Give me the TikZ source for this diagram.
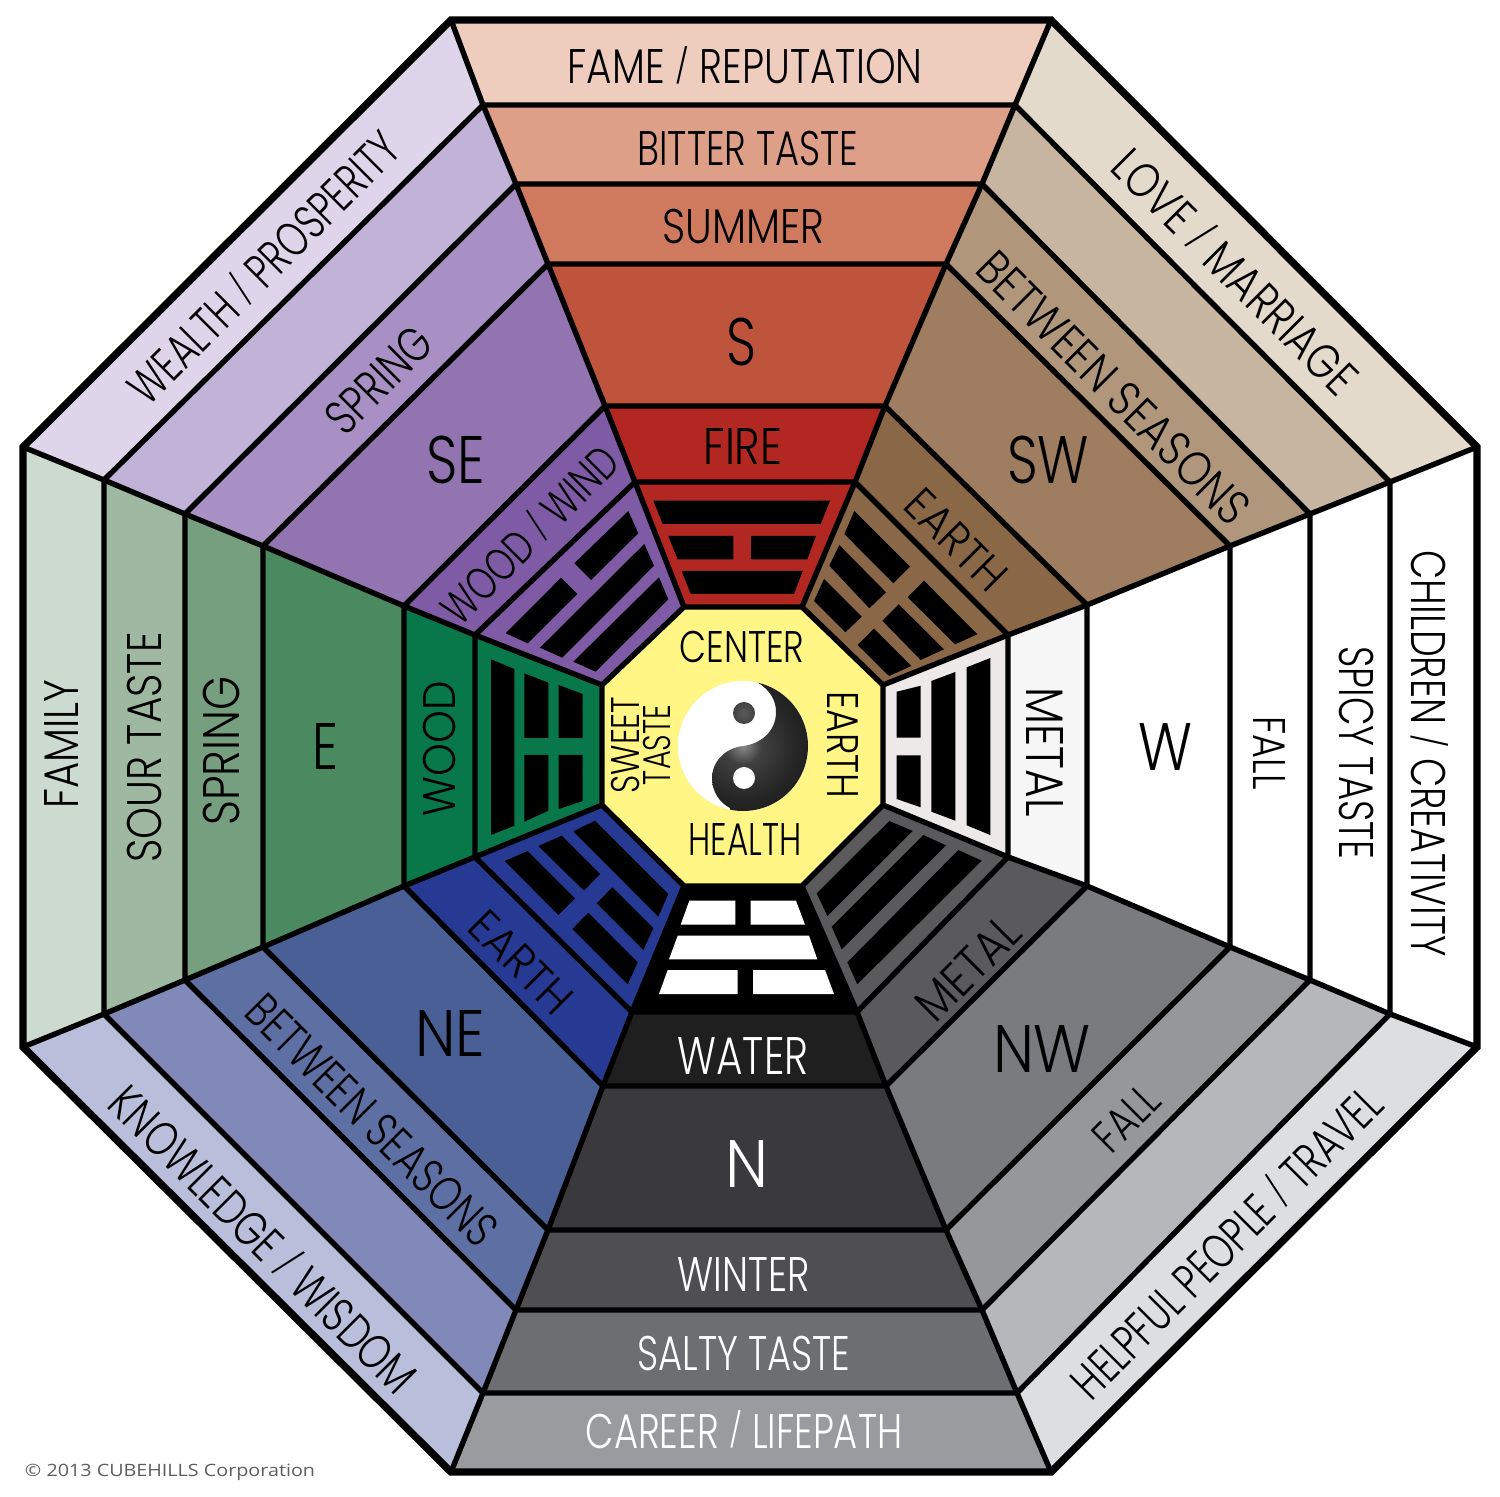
\documentclass[tikz,border=0pt]{standalone}
\usepackage{fontspec}
\usepackage{graphicx}
\newfontfamily\labfont{Poppins Light}
\newfontfamily\copyfont{Open Sans}
% sector colours: index 0 = outermost band ... 5 = trigram band
\definecolor{s0}{HTML}{EFCDBE}\definecolor{s1}{HTML}{DD9F87}\definecolor{s2}{HTML}{CF7A5F}\definecolor{s3}{HTML}{BE543C}\definecolor{s4}{HTML}{B22722}\definecolor{s5}{HTML}{B22722}
\definecolor{sw0}{HTML}{E4DACC}\definecolor{sw1}{HTML}{C7B5A1}\definecolor{sw2}{HTML}{B0977C}\definecolor{sw3}{HTML}{9E7D61}\definecolor{sw4}{HTML}{8A6746}\definecolor{sw5}{HTML}{8A6746}
\definecolor{w0}{HTML}{FFFFFF}\definecolor{w1}{HTML}{FFFFFF}\definecolor{w2}{HTML}{FFFFFF}\definecolor{w3}{HTML}{FFFFFF}\definecolor{w4}{HTML}{F6F6F6}\definecolor{w5}{HTML}{EDE9E8}
\definecolor{nw0}{HTML}{DDDEE0}\definecolor{nw1}{HTML}{B6B7BB}\definecolor{nw2}{HTML}{96979B}\definecolor{nw3}{HTML}{7A7B7F}\definecolor{nw4}{HTML}{5A5A5C}\definecolor{nw5}{HTML}{5A5A5C}
\definecolor{n0}{HTML}{9A9B9E}\definecolor{n1}{HTML}{6D6E71}\definecolor{n2}{HTML}{4F4F51}\definecolor{n3}{HTML}{3A3A3C}\definecolor{n4}{HTML}{1F1F20}\definecolor{n5}{HTML}{000000}
\definecolor{ne0}{HTML}{B9BEDA}\definecolor{ne1}{HTML}{8089B8}\definecolor{ne2}{HTML}{5E6FA3}\definecolor{ne3}{HTML}{4A5F95}\definecolor{ne4}{HTML}{263A93}\definecolor{ne5}{HTML}{263A93}
\definecolor{e0}{HTML}{CCDAD0}\definecolor{e1}{HTML}{9FB8A1}\definecolor{e2}{HTML}{769F7F}\definecolor{e3}{HTML}{4B8A60}\definecolor{e4}{HTML}{08774A}\definecolor{e5}{HTML}{08774A}
\definecolor{se0}{HTML}{DED5EA}\definecolor{se1}{HTML}{C1B2D7}\definecolor{se2}{HTML}{A88FC4}\definecolor{se3}{HTML}{9274B1}\definecolor{se4}{HTML}{7F5BA6}\definecolor{se5}{HTML}{7F5BA6}
\definecolor{centre}{HTML}{FFF685}
\definecolor{yyedge}{HTML}{C8C8C8}
\definecolor{yyglow}{HTML}{8A8A8A}
\definecolor{yyn}{HTML}{404040}
\definecolor{yymid}{HTML}{262626}
\definecolor{yyrim}{HTML}{0F0F0F}
\definecolor{dotin}{HTML}{5A5A5A}
\definecolor{dotout}{HTML}{2A2A2A}
\definecolor{copygrey}{HTML}{5E5E5E}
\pgfdeclareradialshading{yyw}{\pgfpoint{0bp}{0bp}}{color(0bp)=(white);color(35bp)=(white);color(50bp)=(yyedge)}
\pgfdeclareradialshading{yyd}{\pgfpoint{0bp}{0bp}}{color(0bp)=(yyglow);color(7bp)=(yyn);color(20bp)=(yymid);color(40bp)=(yyrim);color(50bp)=(yyrim)}
\pgfdeclareradialshading{yydot}{\pgfpoint{0bp}{0bp}}{color(0bp)=(dotin);color(50bp)=(dotout)}
\newcommand\slsh{\raisebox{0.115em}{\scalebox{0.8}[0.7]{/}}}
\newcommand\lbl[8]{%
  \pgfmathsetmacro\fsz{#6*0.5/0.70}%
  \node[lbl,rotate=#4,text=#7] (#1) at (#2,#3) {\raisebox{0pt}[\dimexpr#6pt/2\relax][0pt]{\fontsize{\fsz pt}{\fsz pt}\selectfont\labfont\resizebox{\dimexpr(#5pt+3pt)/2\relax}{\height}{#8}}};}
\tikzset{
  lbl/.style={inner sep=0pt,anchor=center},
  ringline/.style={draw=black,line width=2.7pt,line join=miter},
  spoke/.style={draw=black,line width=2.7pt,line cap=butt},
  rim/.style={draw=black,line width=3.7pt,line join=miter},
  barb/.style={fill=black},
  barw/.style={fill=white}
}
\begin{document}
\begin{tikzpicture}[x=0.5pt,y=-0.5pt]
\useasboundingbox (0,0) rectangle (1500,1497);
\fill[white] (0,0) rectangle (1500,1497);
% ring vertices
\coordinate (r0a) at (451,20);\coordinate (r0b) at (1051,20);\coordinate (r0c) at (1477,447);\coordinate (r0d) at (1477,1047);\coordinate (r0e) at (1051,1472);\coordinate (r0f) at (451,1472);\coordinate (r0g) at (23,1047);\coordinate (r0h) at (23,447);
\coordinate (r1a) at (483,105);\coordinate (r1b) at (1015,105);\coordinate (r1c) at (1390,482);\coordinate (r1d) at (1390,1014);\coordinate (r1e) at (1017,1393);\coordinate (r1f) at (483,1393);\coordinate (r1g) at (104,1014);\coordinate (r1h) at (104,480);
\coordinate (r2a) at (516,184);\coordinate (r2b) at (982,184);\coordinate (r2c) at (1310,514);\coordinate (r2d) at (1310,980);\coordinate (r2e) at (982,1310);\coordinate (r2f) at (516,1310);\coordinate (r2g) at (185,980);\coordinate (r2h) at (185,514);
\coordinate (r3a) at (548,264);\coordinate (r3b) at (946,264);\coordinate (r3c) at (1230,546);\coordinate (r3d) at (1230,947);\coordinate (r3e) at (946,1230);\coordinate (r3f) at (548,1230);\coordinate (r3g) at (263,947);\coordinate (r3h) at (263,546);
\coordinate (r4a) at (605,406);\coordinate (r4b) at (885,406);\coordinate (r4c) at (1087,605);\coordinate (r4d) at (1087,886);\coordinate (r4e) at (886,1086);\coordinate (r4f) at (603,1086);\coordinate (r4g) at (404,886);\coordinate (r4h) at (404,606);
\coordinate (r5a) at (635,482);\coordinate (r5b) at (855,482);\coordinate (r5c) at (1008,635);\coordinate (r5d) at (1008,857);\coordinate (r5e) at (857,1012);\coordinate (r5f) at (632,1012);\coordinate (r5g) at (475,857);\coordinate (r5h) at (475,635);
\coordinate (r6a) at (684,607);\coordinate (r6b) at (802,607);\coordinate (r6c) at (883,685);\coordinate (r6d) at (883,805);\coordinate (r6e) at (802,886);\coordinate (r6f) at (684,886);\coordinate (r6g) at (602,805);\coordinate (r6h) at (602,685);
% bands
\foreach \v/\w/\p in {a/b/s,b/c/sw,c/d/w,d/e/nw,e/f/n,f/g/ne,g/h/e,h/a/se}{
  \foreach \i/\j in {0/1,1/2,2/3,3/4,4/5,5/6}{
    \fill[\p\i] (r\i\v)--(r\i\w)--(r\j\w)--(r\j\v)--cycle;
  }
}
\fill[centre] (r6a)--(r6b)--(r6c)--(r6d)--(r6e)--(r6f)--(r6g)--(r6h)--cycle;
% ring lines and spokes
\foreach \i in {1,2,3,4,5,6}{
  \draw[ringline] (r\i a)--(r\i b)--(r\i c)--(r\i d)--(r\i e)--(r\i f)--(r\i g)--(r\i h)--cycle;
}
\foreach \v in {a,b,c,d,e,f,g,h}{
  \draw[spoke] (r0\v)--(r1\v)--(r2\v)--(r3\v)--(r4\v)--(r5\v)--(r6\v);
}
\draw[rim] (r0a)--(r0b)--(r0c)--(r0d)--(r0e)--(r0f)--(r0g)--(r0h)--cycle;
% trigram S
\fill[barb] (653.3,500.7)--(830,500.7)--(820.7,524)--(662.7,524)--cycle;
\fill[barb] (668.3,536)--(733.3,536)--(733.3,559.3)--(677.7,559.3)--cycle;
\fill[barb] (751,536)--(816,536)--(807.3,559.3)--(751,559.3)--cycle;
\fill[barb] (681.7,571)--(802.7,571)--(794,594)--(690.7,594)--cycle;
% trigram SE
\fill[barb] (628.3,511)--(638.3,533.3)--(591,580)--(574.3,563.3)--cycle;
\fill[barb] (561,577.7)--(577.3,594)--(527.7,643.3)--(505.7,633.3)--cycle;
\fill[barb] (644.3,544)--(654,565.7)--(562.3,657.7)--(540,647.7)--cycle;
\fill[barb] (659,577.3)--(668.3,599.3)--(595.7,671.7)--(573.3,661.7)--cycle;
% trigram SW
\fill[barb] (924,580.7)--(977.3,634.3)--(955,644.3)--(907.7,597.3)--cycle;
\fill[barb] (854.3,511)--(910,566.7)--(893.3,583.3)--(844.3,534)--cycle;
\fill[barb] (839.3,545)--(886,592.3)--(869.3,608.3)--(829.3,565.7)--cycle;
\fill[barb] (898.7,604.3)--(944,649.3)--(920.7,660)--(882.3,620.7)--cycle;
\fill[barb] (824,579)--(861.7,616.7)--(845.3,632.3)--(814,601)--cycle;
\fill[barb] (874,628.7)--(911.3,666)--(889,676)--(857.7,645)--cycle;
% trigram W
\fill[barb] (896.7,691.7)--(920.7,685.7)--(920.7,737.7)--(896.7,737.7)--cycle;
\fill[barb] (896.7,755.3)--(920.7,755.3)--(920.7,807.3)--(896.7,799)--cycle;
\fill[barb] (931.3,681)--(955.3,672)--(955.3,820.7)--(931.3,811.7)--cycle;
\fill[barb] (966.7,667.3)--(990.3,658)--(990.3,835)--(966.7,825.3)--cycle;
% trigram NW
\fill[barb] (889.3,821)--(912.7,831)--(827.3,916)--(816.7,893.3)--cycle;
\fill[barb] (923.3,835)--(946,845.3)--(841.7,949.3)--(831.7,926.7)--cycle;
\fill[barb] (958.3,850)--(981.7,860.7)--(857.3,984.3)--(847.3,962.3)--cycle;
% trigram N
\fill[barw] (689.3,900.7)--(735.3,900.7)--(735.3,924.7)--(680.7,924.7)--cycle;
\fill[barw] (750.7,900.7)--(796,900.7)--(805,924.7)--(750.7,924.7)--cycle;
\fill[barw] (677.7,935.7)--(809,935.7)--(817.3,959.3)--(669,959.3)--cycle;
\fill[barw] (667.7,970)--(737.7,970)--(737.7,994)--(659,994)--cycle;
\fill[barw] (753,970)--(825,970)--(834,994)--(753,994)--cycle;
% trigram NE
\fill[barb] (595,820.7)--(668.3,894)--(658.3,916.7)--(573.3,831.3)--cycle;
\fill[barb] (561.7,835.7)--(600,874)--(584,890.7)--(538.3,846)--cycle;
\fill[barb] (612.3,887.3)--(653.3,928.3)--(643.3,950)--(596.7,903.3)--cycle;
\fill[barb] (527.7,851)--(575,898.3)--(558.3,915)--(504.7,861)--cycle;
\fill[barb] (588.3,912.7)--(637.7,962.3)--(627.7,984.3)--(572.3,929)--cycle;
% trigram E
\fill[barb] (491,659.3)--(514.3,669)--(514.3,825.7)--(491,835)--cycle;
\fill[barb] (524.3,673.3)--(548.3,682.7)--(548.3,738)--(524.3,738)--cycle;
\fill[barb] (524.3,755)--(548.3,755)--(548.3,810.7)--(524.3,821.7)--cycle;
\fill[barb] (558.7,685)--(582.7,694)--(582.7,738)--(558.7,738)--cycle;
\fill[barb] (558.7,755)--(582.7,755)--(582.7,801)--(558.7,809)--cycle;
% yin-yang
\shade[shading=yyw] (743,746) circle[radius=65];
\begin{scope}
  \clip (743,746) circle[radius=65];
  \clip (757,682) .. controls (770,690) and (776,700) .. (776,712) .. controls (776,732) and (760,744) .. (743,746) .. controls (725,748) and (712,762) .. (712,778) .. controls (712,792) and (720,803) .. (730,808) -- (730,830) -- (830,830) -- (830,660) -- (757,660) -- cycle;
  \shade[shading=yyd] (743,746) circle[radius=65];
\end{scope}
\shade[shading=yydot] (744,713) circle[radius=11];
\fill[white] (744,778) circle[radius=11];
% labels S
\lbl{fame}{745}{67}{0}{352}{34}{black}{FAME \slsh{} REPUTATION}
\lbl{bitter}{748}{149}{0}{218}{34}{black}{BITTER TASTE}
\lbl{summer}{743.5}{227}{0}{159}{34}{black}{SUMMER}
\lbl{sdir}{741.5}{342}{0}{27}{47}{black}{S}
\lbl{fire}{743}{447}{0}{76}{36}{black}{FIRE}
% labels N
\lbl{water}{743}{1056}{0}{128}{37}{white}{WATER}
\lbl{ndir}{747}{1164}{0}{40}{47}{white}{N}
\lbl{winter}{743.5}{1274}{0}{129}{34}{white}{WINTER}
\lbl{salty}{744}{1353}{0}{210}{34}{white}{SALTY TASTE}
\lbl{career}{744}{1431}{0}{314}{34}{white}{CAREER \slsh{} LIFEPATH}
% labels centre
\lbl{center}{742}{647}{0}{122}{31}{black}{CENTER}
\lbl{health}{745}{840}{0}{110}{32}{black}{HEALTH}
\lbl{cearth}{843}{745}{-90}{104}{31}{black}{EARTH}
\lbl{sweet}{625}{745}{90}{94}{28}{black}{SWEET}
\lbl{taste}{656.5}{745}{90}{77}{27}{black}{TASTE}
% labels E
\lbl{family}{61}{744}{90}{126}{34}{black}{FAMILY}
\lbl{sour}{144.5}{747.5}{90}{227}{34}{black}{SOUR TASTE}
\lbl{espring}{221.5}{751}{90}{146}{36}{black}{SPRING}
\lbl{edir}{325.5}{747}{0}{23}{46}{black}{E}
\lbl{ewood}{439}{749}{90}{132}{32}{black}{WOOD}
% labels W
\lbl{children}{1428}{753.5}{-90}{403}{34}{black}{CHILDREN \slsh{} CREATIVITY}
\lbl{spicy}{1356}{753}{-90}{210}{34}{black}{SPICY TASTE}
\lbl{wfall}{1269}{753}{-90}{70}{32}{black}{FALL}
\lbl{wdir}{1165.5}{747}{0}{51}{47}{black}{W}
\lbl{wmetal}{1045}{752}{-90}{126}{37}{black}{METAL}
% labels SE
\lbl{wealth}{264}{268}{45}{358}{34}{black}{WEALTH \slsh{} PROSPERITY}
\lbl{sespring}{379}{380}{45}{126}{34}{black}{SPRING}
\lbl{sedir}{456}{460}{0}{56}{47}{black}{SE}
\lbl{wind}{530}{535}{45}{226}{32}{black}{WOOD \slsh{} WIND}
% labels SW
\lbl{love}{1235}{272}{-45}{320}{34}{black}{LOVE \slsh{} MARRIAGE}
\lbl{swbetween}{1114}{388}{-45}{360}{34}{black}{BETWEEN SEASONS}
\lbl{swdir}{1048}{460}{0}{79}{47}{black}{SW}
\lbl{swearth}{956}{540}{-45}{120}{32}{black}{EARTH}
% labels NE
\lbl{knowledge}{263}{1240}{-45}{408}{34}{black}{KNOWLEDGE \slsh{} WISDOM}
\lbl{nebetween}{372}{1120}{-45}{330}{34}{black}{BETWEEN SEASONS}
\lbl{nedir}{450}{1033}{0}{67}{46}{black}{NE}
\lbl{neearth}{521}{962}{-45}{122}{32}{black}{EARTH}
% labels NW
\lbl{helpful}{1227}{1243}{45}{413}{34}{black}{HELPFUL PEOPLE \slsh{} TRAVEL}
\lbl{nwfall}{1126}{1118}{45}{70}{32}{black}{FALL}
\lbl{nwdir}{1042}{1049}{0}{95}{47}{black}{NW}
\lbl{nwmetal}{968}{968}{45}{123}{34}{black}{METAL}
% copyright
\node[lbl,text=copygrey] (copy) at (170,1472) {\resizebox{145pt}{\height}{\fontsize{8.5pt}{9pt}\selectfont\copyfont\textcopyright{} 2013 CUBEHILLS Corporation}};
\end{tikzpicture}
\end{document}
